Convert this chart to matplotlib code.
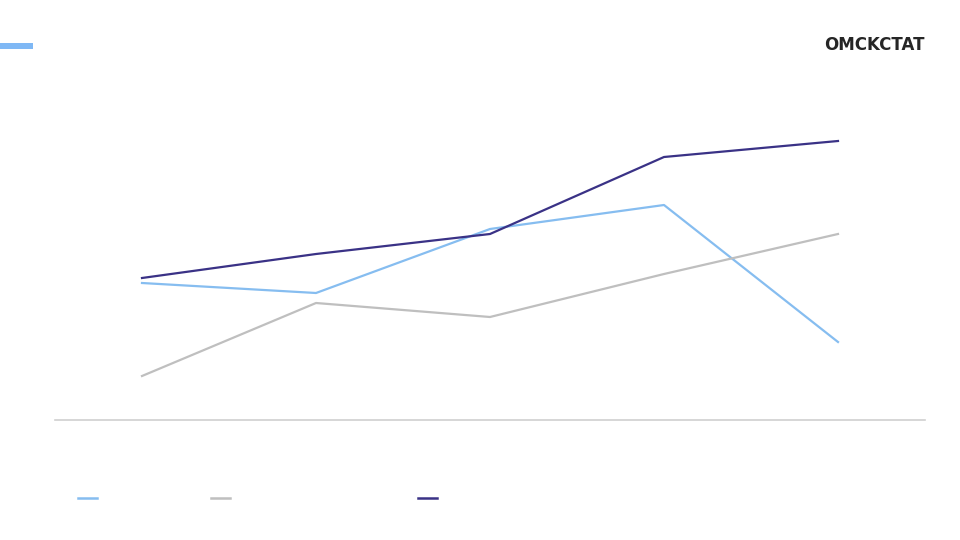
import matplotlib
matplotlib.use("Agg")
import matplotlib.pyplot as plt
from matplotlib.lines import Line2D
from matplotlib.patches import Rectangle

categories = ["1", "2", "3", "4", "5"]
series_light = [137, 127, 191, 215, 78]
series_gray = [44, 117, 103, 146, 186]
series_dark = [142, 166, 186, 263, 279]

c_light = "#86bdf0"
c_gray = "#bfbfbf"
c_dark = "#3a3286"

fig = plt.figure(figsize=(9.6, 5.4), dpi=100)
ax = fig.add_axes([55 / 960, 1 - 420 / 540, 870 / 960, 320 / 540])

x = range(len(categories))
ax.plot(x, series_light, color=c_light, lw=1.6)
ax.plot(x, series_gray, color=c_gray, lw=1.6)
ax.plot(x, series_dark, color=c_dark, lw=1.6)

ax.set_xlim(-0.5, len(categories) - 0.5)
ax.set_ylim(0, 320)
for s in ["top", "right", "left"]:
    ax.spines[s].set_visible(False)
ax.spines["bottom"].set_color("#d0d0d0")
ax.spines["bottom"].set_linewidth(1.2)
ax.set_xticks([])
ax.set_yticks([])

# accent bar top-left
fig.add_artist(Rectangle((0, 1 - 49 / 540), 33 / 960, 6 / 540,
                         transform=fig.transFigure, color="#7fb8f5", lw=0))

fig.text(925 / 960, 1 - 45 / 540, "OMCKCTAT", ha="right", va="center",
         fontsize=12, fontweight="bold", color="#262626", family="DejaVu Sans")

# legend keys (labels are empty in the reference)
for x0, col in [(78, c_light), (211, c_gray), (418, c_dark)]:
    fig.add_artist(Line2D([x0 / 960, (x0 + 19) / 960], [1 - 498 / 540] * 2,
                          transform=fig.transFigure, color=col, lw=1.8))

fig.savefig("out.png", dpi=100, facecolor="white")
